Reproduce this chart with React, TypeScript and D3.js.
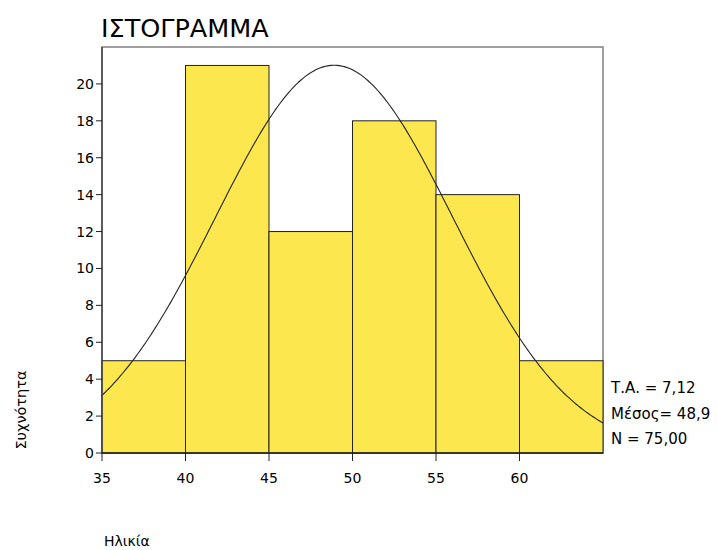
import React from "react";
import * as d3 from "d3";

const binStarts = [35, 40, 45, 50, 55, 60];
const binWidth = 5;
const counts = [5, 21, 12, 18, 14, 5];
const xTicks = [35, 40, 45, 50, 55, 60];
const yTicks = [0, 2, 4, 6, 8, 10, 12, 14, 16, 18, 20];
const stdDev = 7.12;
const meanVal = 48.9;
const nVal = 75;
const statLabels = ["Τ.Α. = 7,12", "Μέσος= 48,9", "N = 75,00"];

export default function App() {
  const W = 718, H = 550;
  const left = 102, right = 603, top = 47, bottom = 453;
  const x = d3.scaleLinear().domain([35, 65]).range([left, right]);
  const y = d3.scaleLinear().domain([0, 22]).range([bottom, top]);
  const font = "Tahoma, 'DejaVu Sans', Verdana, sans-serif";

  const pts = d3.range(35, 65.001, 0.1).map((v) => {
    const z = (v - meanVal) / stdDev;
    const d = (nVal * binWidth) / (stdDev * Math.sqrt(2 * Math.PI)) * Math.exp(-0.5 * z * z);
    return [v, d] as [number, number];
  });
  const line = d3.line<[number, number]>().x((d) => x(d[0])).y((d) => y(d[1]));

  return (
    <svg width={W} height={H} style={{ position: "absolute", left: 0, top: 0, background: "#fff" }} fontFamily={font}>
      <text x={101} y={37} fontSize={25.5} fill="#000">ΙΣΤΟΓΡΑΜΜΑ</text>
      <rect x={left} y={top} width={right - left} height={bottom - top} fill="#fff" stroke="#808080" strokeWidth={1.5} />
      {binStarts.map((b, i) => (
        <rect key={b} x={x(b)} y={y(counts[i])} width={x(b + binWidth) - x(b)} height={bottom - y(counts[i])}
          fill="#fde74e" stroke="#222" strokeWidth={1} />
      ))}
      <path d={line(pts) || ""} fill="none" stroke="#222" strokeWidth={1.1} />
      <line x1={left} x2={left} y1={top} y2={bottom} stroke="#444" strokeWidth={1.5} />
      <line x1={left} x2={right} y1={bottom} y2={bottom} stroke="#222" strokeWidth={1.5} />
      {yTicks.map((t) => (
        <g key={t}>
          <line x1={left - 6} x2={left} y1={y(t)} y2={y(t)} stroke="#222" />
          <text x={left - 8} y={y(t) + 5} fontSize={14} textAnchor="end">{t}</text>
        </g>
      ))}
      {xTicks.map((t) => (
        <g key={t}>
          <line x1={x(t)} x2={x(t)} y1={bottom} y2={bottom + 8} stroke="#222" />
          <text x={x(t)} y={bottom + 30} fontSize={14} textAnchor="middle">{t}</text>
        </g>
      ))}
      {statLabels.map((s, i) => (
        <text key={s} x={611} y={393 + i * 25.5} fontSize={15}>{s}</text>
      ))}
      <text transform="translate(26,410) rotate(-90)" fontSize={14.5} textAnchor="middle">Συχνότητα</text>
      <text x={104} y={546} fontSize={14}>Ηλικία</text>
    </svg>
  );
}
